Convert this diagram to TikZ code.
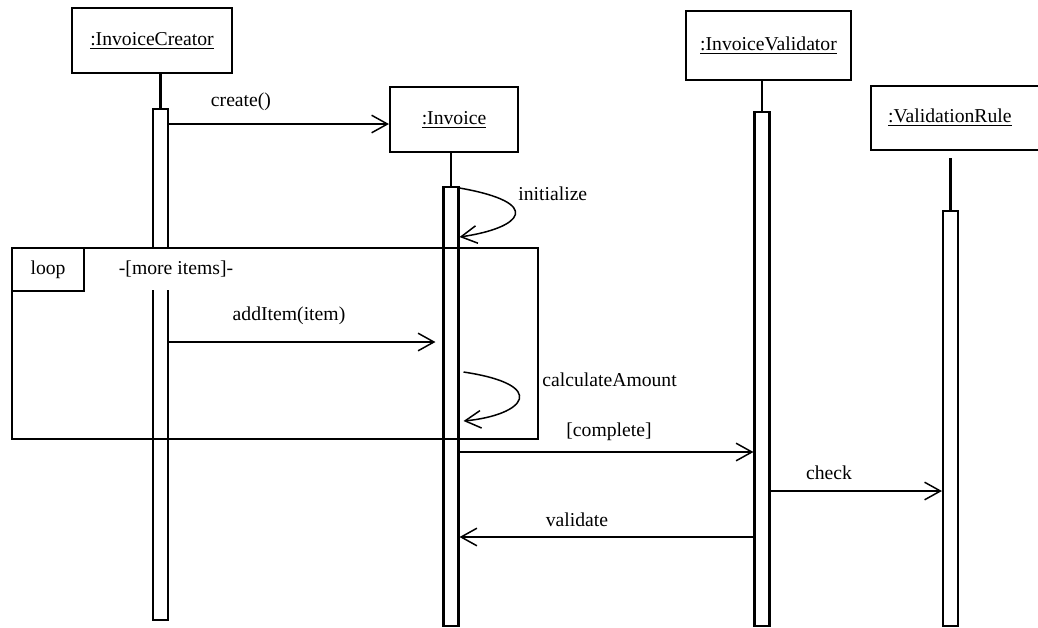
\documentclass[tikz,border=0pt]{standalone}
\usepackage{fontspec}
\setmainfont{Liberation Serif}
\usetikzlibrary{arrows.meta,calc}

\tikzset{
  obj/.style={draw, line width=1.2pt, inner sep=0pt},
  actbar/.style={draw, line width=1.2pt, inner sep=0pt, minimum width=0.3cm, anchor=north},
  life/.style={line width=1.2pt},
  msg/.style={line width=0.85pt, -{Straight Barb[length=9pt,width=10pt,line width=0.85pt]}},
  lbl/.style={inner sep=0pt},
  frame/.style={draw, line width=1.2pt, inner sep=0pt, anchor=north west},
}

\begin{document}
\begin{tikzpicture}[x=0.02cm, y=-0.02cm, font=\fontsize{11.2}{13.4}\selectfont]
\useasboundingbox (0,0) rectangle (1038,627);
% Objects
\node[obj, minimum width=3.2cm, minimum height=1.3cm] (creator) at (152,40.5) {\underline{:InvoiceCreator}};
\node[obj, minimum width=2.56cm, minimum height=1.3cm] (invoice) at (454,119.5) {\underline{:Invoice}};
\node[obj, minimum width=3.3cm, minimum height=1.38cm] (validator) at (768.5,45.5) {\underline{:InvoiceValidator}};
\node[obj, anchor=west, minimum height=1.28cm, inner xsep=0.34cm, text width=3.2cm, align=left] (rule) at (870,118) {\underline{:ValidationRule}};
% Activation bars
\node[actbar, minimum height=10.22cm] (cbar) at (160.5,108) {};
\node[actbar, minimum height=8.78cm] (ibar) at (451,186) {};
\node[actbar, minimum height=10.28cm] (vbar) at (762,111) {};
\node[actbar, minimum height=8.3cm] (rbar) at (950.5,210) {};
% Lifelines
\draw[life] (cbar.north) -- (cbar.north |- creator.south);
\draw[life] (ibar.north) -- (ibar.north |- invoice.south);
\draw[life] (vbar.north) -- (vbar.north |- validator.south);
\draw[life] (rbar.north) -- ($(rbar.north |- rule.south)+(0,7)$);
% Messages
\draw[msg] (cbar.east |- 0,124) -- (invoice.west |- 0,124);
\node[lbl] (createlbl) at (241,102) {create()};
\draw[msg] (ibar.east |- 0,188) .. controls (545,203) and (522,228) .. (ibar.east |- 0,237);
\node[lbl, anchor=west] (initlbl) at (518,194) {initialize};
\draw[msg, shorten >=0.14cm] (cbar.east |- 0,342) -- (ibar.west |- 0,342);
\node[lbl] (additemlbl) at (289,316) {addItem(item)};
\draw[msg] ([xshift=0.08cm]ibar.east |- 0,372) .. controls (550,385) and (525,415) .. ([xshift=0.08cm]ibar.east |- 0,421);
\node[lbl, anchor=west] (calclbl) at (542,380) {calculateAmount};
\draw[msg] (ibar.east |- 0,452) -- (vbar.west |- 0,452);
\node[lbl] (completelbl) at (609,432) {[complete]};
\draw[msg] (vbar.east |- 0,491) -- (rbar.west |- 0,491);
\node[lbl] (checklbl) at (829,473) {check};
\draw[msg] (vbar.west |- 0,537) -- (ibar.east |- 0,537);
\node[lbl] (validatelbl) at (577,520) {validate};
% Loop fragment
\node[lbl, fill=white, minimum height=0.84cm, inner xsep=2pt] (guard) at (176,269) {-[more items]-};
\node[frame, minimum width=10.52cm, minimum height=3.82cm] (loopbox) at (11,247) {};
\node[frame, minimum width=1.44cm, minimum height=0.86cm] (looptab) at (loopbox.north west) {loop};
\end{tikzpicture}
\end{document}
